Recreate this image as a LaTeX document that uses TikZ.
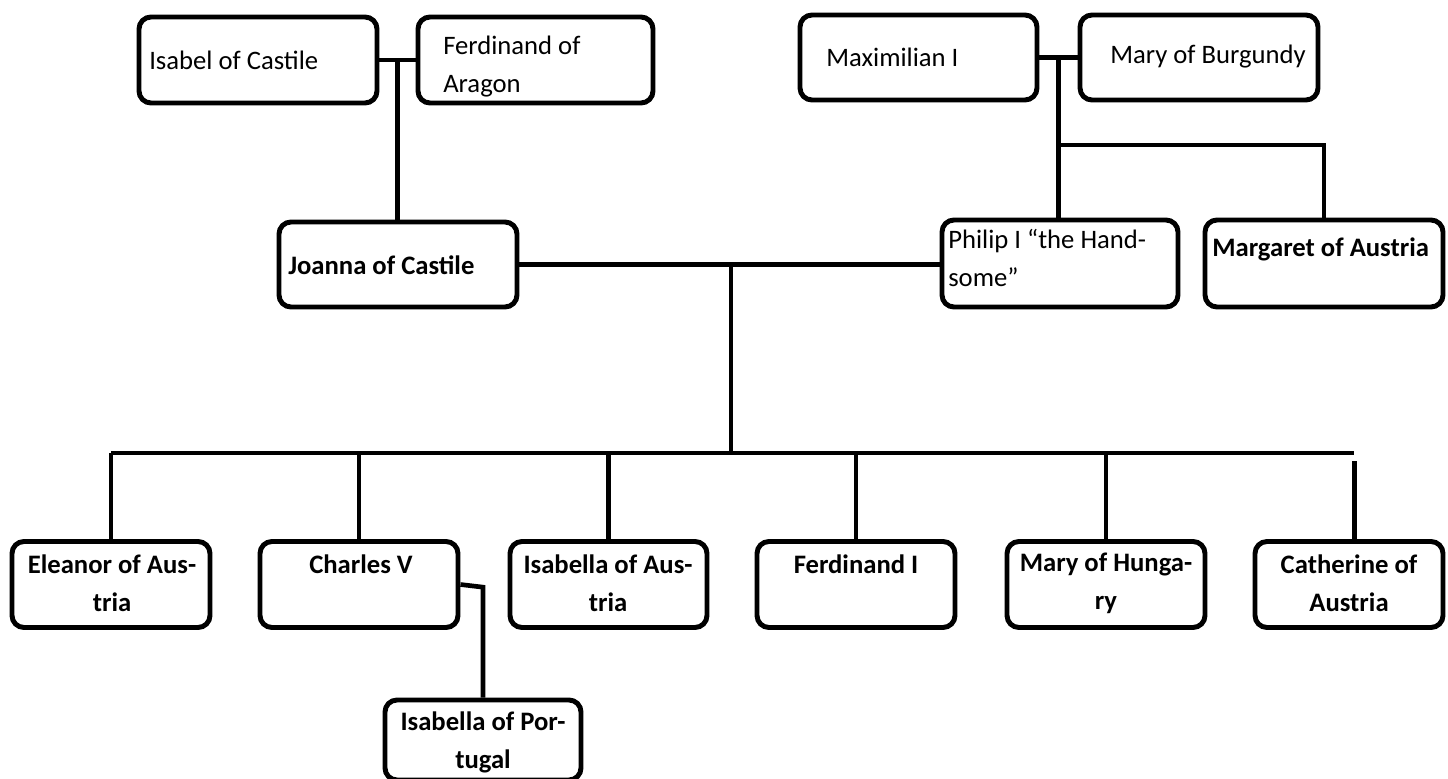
\documentclass[tikz,border=0pt]{standalone}
\usepackage{fontspec}
\setmainfont{Carlito}
\usetikzlibrary{calc}
\begin{document}
\begin{tikzpicture}[x=0.75pt,y=-0.75pt,
  bx/.style 2 args={draw=black, line width=3.7pt, rounded corners=9pt,
    minimum width=#1*0.75pt, minimum height=#2*0.75pt, inner sep=0pt},
  txt/.style={inner sep=0pt, font=\fontsize{20}{28.5}\selectfont},
  txtb/.style={txt, font=\fontsize{20}{28.5}\selectfont\bfseries},
  link/.style={draw=black, line width=3.5pt}]
\useasboundingbox (0,0) rectangle (1448,778);
% boxes
\node[bx={238}{86}] (isa) at (258,60) {};
\node[bx={235}{86}] (fer) at (535.5,60) {};
\node[bx={237}{85}] (max) at (918.5,57.5) {};
\node[bx={238}{85}] (mob) at (1199,57.5) {};
\node[bx={238}{85}] (joa) at (398,264.5) {};
\node[bx={236}{87}] (phi) at (1060,263.5) {};
\node[bx={238}{87}] (mar) at (1324,263.5) {};
\node[bx={198}{86}] (ele) at (111,584.5) {};
\node[bx={198}{86}] (cha) at (359,584.5) {};
\node[bx={197}{86}] (isau) at (608.5,584.5) {};
\node[bx={198}{86}] (fe1) at (856,584.5) {};
\node[bx={198}{86}] (moh) at (1106,584.5) {};
\node[bx={188}{86}] (cat) at (1349,584.5) {};
\node[bx={196}{80}] (isp) at (483,740) {};
% texts
\node[txt, anchor=west] (tisa) at (149,60) {Isabel of Castile};
\node[txt, anchor=west, align=left] (tfer) at (443,67) {Ferdinand of\\Aragon};
\node[txt, anchor=west] (tmax) at (826,57) {Maximilian I};
\node[txt, anchor=east] (tmob) at (1306,57) {Mary of Burgundy};
\node[txtb, anchor=west] (tjoa) at (288,265) {Joanna of Castile};
\node[txt, anchor=west, align=left] (tphi) at (948,258) {Philip I “the Hand-\\some”};
\node[txtb, anchor=west] (tmar) at (1212,249) {Margaret of Austria};
\node[txtb, align=center] (tele) at (112,583) {Eleanor of Aus-\\tria};
\node[txtb] (tcha) at (361,564) {Charles V};
\node[txtb, align=center] (tisau) at (608,583) {Isabella of Aus-\\tria};
\node[txtb] (tfe1) at (856,564) {Ferdinand I};
\node[txtb, align=center] (tmoh) at (1106,583) {Mary of Hunga-\\ry};
\node[txtb, align=center] (tcat) at (1349,583) {Catherine of\\Austria};
\node[txtb, align=center] (tisp) at (483,742) {Isabella of Por-\\tugal};
% connectors
\coordinate (m1) at ($(isa.east)!0.5!(fer.west)$);
\draw[link] (isa.east) -- (fer.west);
\draw[link] (m1) -- (m1 |- joa.north);
\coordinate (m2) at ($(max.east)!0.5!(mob.west)$);
\draw[link] (max.east) -- (mob.west);
\draw[link] (m2) -- (m2 |- phi.north);
\coordinate (br) at (1058,145);
\draw[link] (br) -- (br -| mar.north) -- (mar.north);
\draw[link] (joa.east) -- (joa.east -| phi.west);
\coordinate (c1) at (731,266);
\coordinate (bar) at (731,453);
\draw[link] (c1) -- (bar);
\draw[link] (ele.north |- bar) -- ([xshift=4pt]cat.north |- bar);
\foreach \n in {ele,cha,isau,fe1,moh}{
  \draw[link] (\n.north |- bar) -- (\n.north);
}
\draw[link] ([xshift=4pt]cat.north |- 0,461) -- ([xshift=4pt]cat.north);
\draw[link] (cha.east) -- ([yshift=-2pt]cha.east -| isp.north) -- (isp.north);
\end{tikzpicture}
\end{document}
